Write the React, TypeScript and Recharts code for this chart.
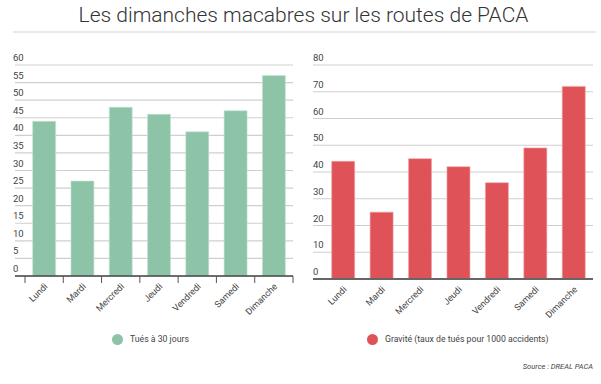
import React from "react";
import { BarChart, Bar, XAxis, YAxis, CartesianGrid } from "recharts";

// jours de la semaine
const days = ["Lundi", "Mardi", "Mercredi", "Jeudi", "Vendredi", "Samedi", "Dimanche"];
// tués à 30 jours
const killed = [44, 27, 48, 46, 41, 47, 57];
// gravité (taux de tués pour 1000 accidents)
const severity = [44, 25, 45, 42, 36, 49, 72];
const killedTicks = [0, 5, 10, 15, 20, 25, 30, 35, 40, 45, 50, 55, 60];
const severityTicks = [0, 10, 20, 30, 40, 50, 60, 70, 80];

const GREEN = "#8DC4A8";
const RED = "#DF5358";
const FONT = "'Liberation Sans Narrow', 'Roboto', sans-serif";
const BAND = 38.3;

const killedData = days.map((d, i) => ({ name: d, value: killed[i] }));
const severityData = days.map((d, i) => ({ name: d, value: severity[i] }));

const makeYTick = (left: number) => (props: any) => {
  const { y, payload } = props;
  return (
    <text x={left} y={y - 4} fontSize={9.5} fill="#444" fontFamily={FONT} textAnchor="start">
      {payload.value}
    </text>
  );
};

const makeXTick = (marks: boolean) => (props: any) => {
  const { x, y, payload, index } = props;
  return (
    <g>
      {marks && <line x1={x - BAND / 2} x2={x - BAND / 2} y1={y} y2={y + 7} stroke="#555" />}
      {marks && index === days.length - 1 && (
        <line x1={x + BAND / 2} x2={x + BAND / 2} y1={y} y2={y + 7} stroke="#555" />
      )}
      <text
        x={x + 4}
        y={y + 11}
        fontSize={9}
        fill="#444"
        fontFamily={FONT}
        textAnchor="end"
        transform={`rotate(-45 ${x + 4} ${y + 11})`}
      >
        {payload.value}
      </text>
    </g>
  );
};

export default function App() {
  return (
    <div
      style={{
        position: "fixed",
        left: 0,
        top: 0,
        width: 601,
        height: 384,
        background: "#fff",
        fontFamily: FONT,
      }}
    >
      {/* titre */}
      <div
        style={{
          position: "absolute",
          left: 3,
          width: 601,
          top: 3,
          textAlign: "center",
          fontFamily: "Roboto, sans-serif",
          fontWeight: 300,
          fontSize: 21,
          color: "#333",
        }}
      >
        Les dimanches macabres sur les routes de PACA
      </div>
      <div style={{ position: "absolute", left: 13, width: 583, top: 31, height: 2, background: "#e9e9e9" }} />

      {/* tués à 30 jours */}
      <div style={{ position: "absolute", left: 0, top: 0 }}>
        <BarChart
          width={300}
          height={384}
          data={killedData}
          margin={{ top: 65, right: 7, bottom: 48, left: 14 }}
          barCategoryGap="20%"
        >
          <CartesianGrid vertical={false} stroke="#cfcfcf" strokeWidth={1.2} />
          <YAxis
            width={1}
            domain={[0, 60]}
            ticks={killedTicks}
            axisLine={false}
            tickLine={false}
            tick={makeYTick(13)}
            interval={0}
          />
          <XAxis
            dataKey="name"
            height={60}
            padding={{ left: 10, right: 0 }}
            tickLine={false}
            tickSize={0}
            tickMargin={0}
            axisLine={{ stroke: "#444", strokeWidth: 1.5 }}
            tick={makeXTick(true)}
            interval={0}
          />
          <Bar dataKey="value" fill={GREEN} stroke="#c9e4d5" strokeWidth={0.6} isAnimationActive={false} />
        </BarChart>
      </div>

      {/* gravité */}
      <div style={{ position: "absolute", left: 300, top: 0 }}>
        <BarChart
          width={300}
          height={384}
          data={severityData}
          margin={{ top: 65, right: 7, bottom: 45, left: 12 }}
          barCategoryGap="20%"
        >
          <CartesianGrid vertical={false} stroke="#cfcfcf" strokeWidth={1.2} />
          <YAxis
            width={1}
            domain={[0, 80]}
            ticks={severityTicks}
            axisLine={false}
            tickLine={false}
            tick={makeYTick(13)}
            interval={0}
          />
          <XAxis
            dataKey="name"
            height={60}
            padding={{ left: 11, right: 0 }}
            tickLine={false}
            tickSize={0}
            tickMargin={0}
            axisLine={{ stroke: "#666", strokeWidth: 2 }}
            tick={makeXTick(false)}
            interval={0}
          />
          <Bar dataKey="value" fill={RED} stroke="#f0a5a8" strokeWidth={0.6} isAnimationActive={false} />
        </BarChart>
      </div>

      {/* légendes */}
      <div style={{ position: "absolute", left: 112, top: 334, width: 11, height: 11, borderRadius: "50%", background: GREEN }} />
      <div style={{ position: "absolute", left: 130, top: 334, fontSize: 8.7, color: "#444" }}>Tués à 30 jours</div>
      <div style={{ position: "absolute", left: 367, top: 334, width: 11, height: 11, borderRadius: "50%", background: RED }} />
      <div style={{ position: "absolute", left: 385, top: 334, fontSize: 8.7, color: "#444" }}>
        Gravité (taux de tués pour 1000 accidents)
      </div>

      <div
        style={{
          position: "absolute",
          right: 8,
          top: 362,
          fontSize: 7.5,
          fontStyle: "italic",
          color: "#444",
        }}
      >
        Source : DREAL PACA
      </div>
    </div>
  );
}
